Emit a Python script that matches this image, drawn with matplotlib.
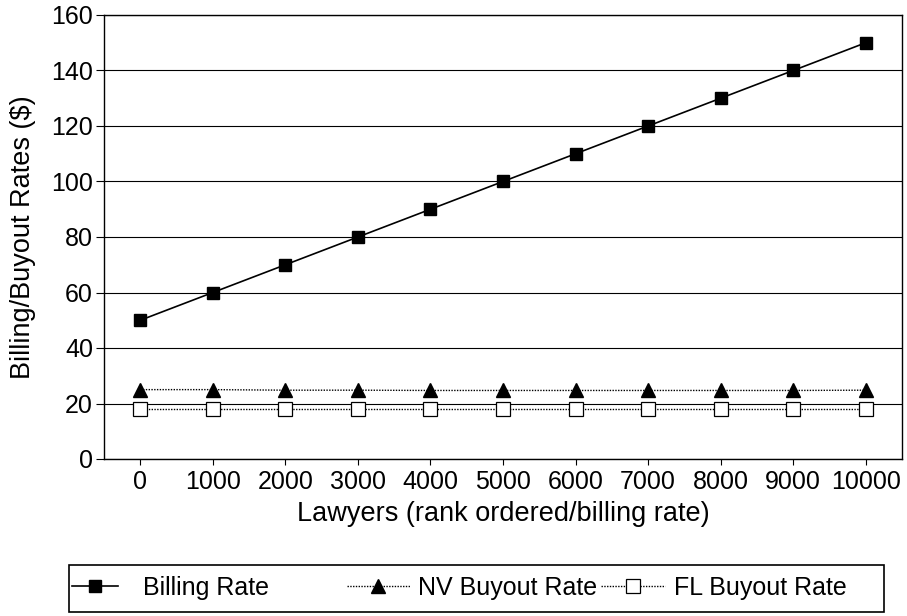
import matplotlib.pyplot as plt
from matplotlib.patches import Rectangle

plt.rcParams['font.family'] = ['Liberation Sans', 'DejaVu Sans']

lawyers = ["0", "1000", "2000", "3000", "4000", "5000", "6000", "7000", "8000", "9000", "10000"]
billing_rate = [50, 60, 70, 80, 90, 100, 110, 120, 130, 140, 150]
nv_buyout = [25, 25, 24.8, 24.8, 24.7, 24.7, 24.7, 24.7, 24.7, 24.7, 24.8]
fl_buyout = [18, 18, 18, 18, 18, 18, 18, 18, 18, 18, 18]

fig = plt.figure(figsize=(9.07, 6.16), dpi=100)
ax = fig.add_axes([104 / 907, 1 - 459 / 616, 798 / 907, 444 / 616])

x = range(len(lawyers))
l1, = ax.plot(x, billing_rate, color="black", lw=1.2, marker="s", ms=9, label="Billing Rate")
l2, = ax.plot(x, nv_buyout, color="black", lw=1.0, ls=(0, (1, 1)), marker="^", ms=10,
              label="NV Buyout Rate")
l3, = ax.plot(x, fl_buyout, color="black", lw=1.0, ls=(0, (1, 1)), marker="s", ms=10,
              mfc="white", mew=0.9, label="FL Buyout Rate")

ax.set_xticks(list(x))
ax.set_xticklabels(lawyers)
ax.set_xlim(-0.5, len(lawyers) - 0.5)
ax.set_ylim(0, 160)
ax.set_yticks(range(0, 161, 20))
ax.yaxis.grid(True, color="black", lw=0.8)
ax.set_axisbelow(True)
ax.tick_params(labelsize=18, color="black")
ax.tick_params(axis="x", length=4, pad=4)
ax.tick_params(axis="y", length=6, pad=2)
for s in ax.spines.values():
    s.set_color("black")
    s.set_linewidth(1.0)

ax.set_xlabel("Lawyers (rank ordered/billing rate)", fontsize=19.5, labelpad=5)
ax.set_ylabel("Billing/Buyout Rates ($)", fontsize=19.5, labelpad=11)

# legend box drawn by hand, entries spaced as in the original
fig.patches.append(Rectangle((69 / 907, 4 / 616), 815 / 907, 47 / 616,
                             transform=fig.transFigure, fill=False,
                             edgecolor="black", lw=1.2))
entries = [(l1, 72, 1.85, 1.0), (l2, 347, 2.5, 0.35), (l3, 601, 2.55, 0.35)]
for line, px, hl, pad in entries:
    fig.legend(handles=[line], loc="center left", bbox_to_anchor=(px / 907, 1 - 588 / 616),
               frameon=False, fontsize=18, handlelength=hl, handletextpad=pad,
               borderpad=0, borderaxespad=0)

fig.savefig("out.png", dpi=100)
